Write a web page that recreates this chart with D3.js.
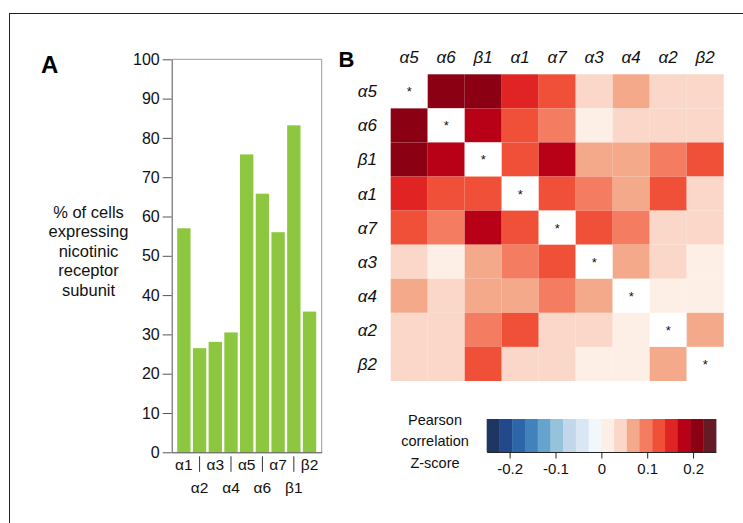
<!DOCTYPE html>
<html>
<head>
<meta charset="utf-8">
<script src="https://cdn.jsdelivr.net/npm/d3@7"></script>
<style>
  body { margin: 0; background: #fff; }
  svg { display: block; font-family: "Liberation Sans", Arial, sans-serif; }
</style>
</head>
<body>
<svg id="chart" width="743" height="523"></svg>
<script>
// ============
// DATA
// ============

// panel A - bar chart
const subunits = ["α1", "α2", "α3", "α4", "α5", "α6", "α7", "β1", "β2"];
const pctCells = [57.0, 26.5, 28.1, 30.5, 75.8, 65.8, 56.0, 83.2, 35.8];
const yTicks = [0, 10, 20, 30, 40, 50, 60, 70, 80, 90, 100];
const yLabelLines = ["% of cells", "expressing", "nicotinic", "receptor", "subunit"];

// panel B - correlation heatmap (null = diagonal)
const heatLabels = ["α5", "α6", "β1", "α1", "α7", "α3", "α4", "α2", "β2"];
const zScores = [
  [null, 0.21, 0.21, 0.155, 0.125, 0.04, 0.07, 0.04, 0.04],
  [0.21, null, 0.18, 0.125, 0.095, 0.015, 0.04, 0.04, 0.04],
  [0.21, 0.18, null, 0.125, 0.18, 0.07, 0.07, 0.095, 0.125],
  [0.155, 0.125, 0.125, null, 0.125, 0.095, 0.07, 0.125, 0.04],
  [0.125, 0.095, 0.18, 0.125, null, 0.125, 0.095, 0.04, 0.04],
  [0.04, 0.015, 0.07, 0.095, 0.125, null, 0.07, 0.04, 0.015],
  [0.07, 0.04, 0.07, 0.07, 0.095, 0.07, null, 0.015, 0.015],
  [0.04, 0.04, 0.095, 0.125, 0.04, 0.04, 0.015, null, 0.07],
  [0.04, 0.04, 0.125, 0.04, 0.04, 0.015, 0.015, 0.07, null]
];
const legendTicks = [-0.2, -0.1, 0, 0.1, 0.2];
const legendTitle = ["Pearson", "correlation", "Z-score"];
const binColors = [
  "#1f3663", "#23498b", "#2c65a8", "#4182ba", "#67a4cd", "#95c3dc", "#c3d7eb", "#d9e6f3", "#f2f7fc",
  "#fdeee6", "#fad7c8", "#f4a98b", "#f47c60", "#f05038", "#e02424", "#b80016", "#8b0012", "#651b25"
];

const svg = d3.select("#chart");

// outer frame
svg.append("rect")
  .attr("x", 9.5).attr("y", 13.5)
  .attr("width", 760).attr("height", 540)
  .attr("fill", "none").attr("stroke", "#222");

// ============
// PANEL A
// ============

const plotA = { left: 171.7, right: 321.7, top: 59.3, bottom: 452.3 };

svg.append("text")
  .attr("x", 41).attr("y", 72.5)
  .attr("font-size", 24).attr("font-weight", "bold")
  .text("A");

const x = d3.scaleBand()
  .domain(subunits)
  .range([plotA.left, plotA.right])
  .paddingInner(0.15)
  .paddingOuter(0.35);

const y = d3.scaleLinear()
  .domain([0, 100])
  .range([plotA.bottom, plotA.top]);

// bars
svg.append("g")
  .selectAll("rect")
  .data(pctCells)
  .enter()
  .append("rect")
    .attr("x", (d, i) => x(subunits[i]))
    .attr("y", d => y(d))
    .attr("width", x.bandwidth())
    .attr("height", d => y(0) - y(d))
    .attr("fill", "#8dc63f");

// frame top / right
svg.append("path")
  .attr("d", `M${plotA.left},${plotA.top}H${plotA.right}V${plotA.bottom}`)
  .attr("fill", "none").attr("stroke", "#9a9a9a");

// y axis
const yAxis = svg.append("g")
  .attr("transform", `translate(${plotA.left},0)`)
  .call(d3.axisLeft(y).tickValues(yTicks).tickSize(9).tickSizeOuter(0).tickPadding(3));
yAxis.selectAll("path, line").attr("stroke", "#555");
yAxis.selectAll("text").attr("font-size", 16).attr("fill", "#111")
  .attr("font-family", "Liberation Sans, Arial, sans-serif");

// x axis with two rows of labels
const xAxis = svg.append("g")
  .attr("transform", `translate(0,${plotA.bottom})`)
  .call(d3.axisBottom(x).tickSize(0).tickSizeOuter(0));
xAxis.select(".domain").attr("stroke", "#444");
xAxis.selectAll(".tick line")
  .attr("stroke", "#333")
  .attr("y1", (d, i) => i % 2 ? 4 : 0)
  .attr("y2", (d, i) => i % 2 ? 19.5 : 0);
xAxis.selectAll(".tick text")
  .attr("font-size", 15.5).attr("fill", "#111")
  .attr("font-family", "Liberation Sans, Arial, sans-serif")
  .attr("dy", null)
  .attr("y", (d, i) => i % 2 ? 40.5 : 17.5);

// y label
svg.append("text")
  .attr("text-anchor", "middle")
  .attr("font-size", 16.5).attr("fill", "#111")
  .selectAll("tspan")
  .data(yLabelLines)
  .enter()
  .append("tspan")
    .attr("x", 88.5)
    .attr("y", (d, i) => 217.5 + i * 19.6)
    .text(d => d);

// ============
// PANEL B
// ============

svg.append("text")
  .attr("x", 338.5).attr("y", 67)
  .attr("font-size", 22).attr("font-weight", "bold")
  .text("B");

const cx = d3.scaleBand().domain(heatLabels).range([390.7, 723.7]);
const cy = d3.scaleBand().domain(heatLabels).range([74.3, 381]);

const color = d3.scaleThreshold()
  .domain(d3.range(1, binColors.length).map(i => -0.25 + i * 0.5 / binColors.length))
  .range(binColors);

const cells = [];
zScores.forEach((row, r) => row.forEach((v, c) => cells.push({ r: heatLabels[r], c: heatLabels[c], v: v })));

svg.append("g")
  .selectAll("rect")
  .data(cells)
  .enter()
  .append("rect")
    .attr("x", d => cx(d.c))
    .attr("y", d => cy(d.r))
    .attr("width", cx.bandwidth())
    .attr("height", cy.bandwidth())
    .attr("fill", d => d.v === null ? "#fff" : color(d.v));

// diagonal stars
svg.append("g")
  .selectAll("text")
  .data(cells.filter(d => d.v === null))
  .enter()
  .append("text")
    .attr("x", d => cx(d.c) + cx.bandwidth() / 2)
    .attr("y", d => cy(d.r) + cy.bandwidth() / 2 + 5)
    .attr("text-anchor", "middle")
    .attr("font-size", 13).attr("fill", "#111")
    .text("*");

// column labels
svg.append("g")
  .selectAll("text")
  .data(heatLabels)
  .enter()
  .append("text")
    .attr("x", d => cx(d) + cx.bandwidth() / 2)
    .attr("y", 62.5)
    .attr("text-anchor", "middle")
    .attr("font-size", 17).attr("font-style", "italic").attr("fill", "#111")
    .text(d => d);

// row labels
svg.append("g")
  .selectAll("text")
  .data(heatLabels)
  .enter()
  .append("text")
    .attr("x", 377)
    .attr("y", d => cy(d) + cy.bandwidth() / 2 + 6)
    .attr("text-anchor", "end")
    .attr("font-size", 17).attr("font-style", "italic").attr("fill", "#111")
    .text(d => d);

// ============
// LEGEND
// ============

const lx = d3.scaleLinear().domain([-0.25, 0.25]).range([486.7, 716]);
const legTop = 419, legBottom = 452;

svg.append("g")
  .selectAll("rect")
  .data(binColors)
  .enter()
  .append("rect")
    .attr("x", d => lx(color.invertExtent(d)[0] ?? -0.25))
    .attr("y", legTop)
    .attr("width", d => lx(color.invertExtent(d)[1] ?? 0.25) - lx(color.invertExtent(d)[0] ?? -0.25) + 0.4)
    .attr("height", legBottom - legTop)
    .attr("fill", d => d);

const legAxis = svg.append("g")
  .attr("transform", `translate(0,${legBottom})`)
  .call(d3.axisBottom(lx).tickValues(legendTicks).tickSize(6.5).tickSizeOuter(0)
    .tickPadding(5).tickFormat(d => String(d)));
legAxis.selectAll("path, line").attr("stroke", "#222");
legAxis.selectAll("text").attr("font-size", 15).attr("fill", "#111")
  .attr("font-family", "Liberation Sans, Arial, sans-serif");

svg.append("text")
  .attr("text-anchor", "middle")
  .attr("font-size", 14.5).attr("fill", "#111")
  .selectAll("tspan")
  .data(legendTitle)
  .enter()
  .append("tspan")
    .attr("x", 435)
    .attr("y", (d, i) => 424.5 + i * 21.5)
    .text(d => d);
</script>
</body>
</html>
